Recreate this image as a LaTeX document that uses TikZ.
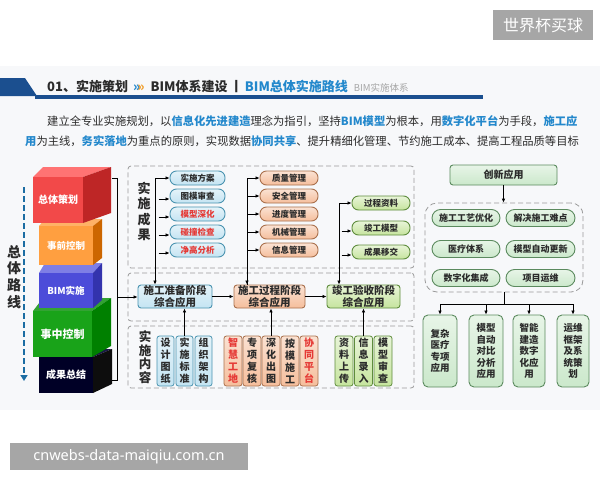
\documentclass[tikz,border=0pt]{standalone}
\usepackage{fontspec}
\setmainfont{Noto Sans CJK SC}
\newfontfamily\latinsans{Noto Sans}
\usetikzlibrary{arrows.meta}
\definecolor{hdrblue}{HTML}{1B4F8F}
\definecolor{hlblue}{HTML}{2388CC}
\definecolor{txt}{HTML}{2B2B2B}
\definecolor{bfill}{HTML}{C4E4F2}
\definecolor{bline}{HTML}{4A93B0}
\definecolor{ofill}{HTML}{F5BE9C}
\definecolor{oline}{HTML}{A9704C}
\definecolor{gfill}{HTML}{C6E49E}
\definecolor{gline}{HTML}{5E8C3C}
\definecolor{rfill}{HTML}{CBE8CB}
\definecolor{rline}{HTML}{5B8A5E}
\definecolor{redtxt}{HTML}{E53935}
\definecolor{dashgray}{HTML}{9A9A9A}
\definecolor{wmgray}{HTML}{A6A6A6}
\definecolor{slidebg}{HTML}{F7F8FA}
\definecolor{orng}{HTML}{F0A030}
\newcommand\hlt[1]{\textcolor{hlblue}{\bfseries #1}}
\begin{document}
\begin{tikzpicture}[x=1pt,y=-1pt,
  arr/.style={-{Latex[length=4pt,width=3.6pt]}, line width=0.8pt, draw=black},
  ln/.style={line width=0.8pt, draw=black},
  pillb/.style={draw=bline, line width=0.9pt, top color=bfill!45!white, bottom color=bfill, rounded corners=6.5pt, minimum width=55pt, minimum height=14pt, inner sep=0pt, font=\bfseries\fontsize{8.5}{9}\selectfont, text=txt},
  pillo/.style={pillb, draw=oline, top color=ofill!45!white, bottom color=ofill, minimum width=58pt},
  pillg/.style={pillb, draw=gline, top color=gfill!40!white, bottom color=gfill, minimum width=58pt},
  stagebox/.style={rounded corners=3pt, line width=0.9pt, minimum height=23pt, inner sep=0pt, align=center, font=\bfseries\fontsize{10.5}{12}\selectfont, text=txt},
  vbox/.style={rounded corners=2.5pt, line width=0.8pt, minimum width=17pt, minimum height=50pt, inner sep=0pt, align=center, font=\bfseries\fontsize{10}{12}\selectfont, text=txt},
  region/.style={draw=dashgray, dash pattern=on 5pt off 3pt, line width=0.8pt, rounded corners=3pt, inner sep=0pt},
  rpill/.style={draw=rline, line width=0.9pt, top color=rfill!45!white, bottom color=rfill, rounded corners=8.5pt, minimum height=17pt, inner sep=0pt, font=\bfseries\fontsize{9}{10}\selectfont, text=txt},
  tallbox/.style={draw=rline, line width=0.9pt, top color=rfill!45!white, bottom color=rfill, rounded corners=5pt, minimum height=72pt, inner sep=0pt, align=center, font=\bfseries\fontsize{9.5}{11.5}\selectfont, text=txt},
  vlabel/.style={align=center, font=\bfseries\fontsize{13}{15.5}\selectfont, text=txt, inner sep=0pt},
  cubetxt/.style={text=white, font=\bfseries\fontsize{9.5}{10}\selectfont, inner sep=0pt}
]
\useasboundingbox (0,0) rectangle (600,480);
\fill[white] (0,0) rectangle (600,480);
\fill[slidebg] (0,66) rectangle (600,410);
% watermarks
\node[fill=wmgray, text=white, minimum width=100pt, minimum height=30pt, inner sep=0pt, font=\fontsize{16}{16}\selectfont] (wm1) at (543,25) {世界杯买球};
\node[fill=wmgray, text=white, minimum width=238pt, minimum height=27pt, inner sep=0pt, font=\latinsans\fontsize{14.5}{15}\selectfont] (wm2) at (129,456.5) {cnwebs-data-maiqiu.com.cn};
% header
\fill[hdrblue] (0,78) -- (25,78) -- (37,96) -- (0,96) -- cycle;
\fill[hdrblue] (35,95) rectangle (483,99);
\node[anchor=west, inner sep=0pt, font=\bfseries\fontsize{13}{14}\selectfont, text=txt] (hd) at (47,86) {01、实施策划\ \,{\color{hlblue}»}\hspace{-3pt}{\color{orng}»}\ \ BIM体系建设\,丨\,{\color{hlblue}BIM总体实施路线}\ \ {\mdseries\fontsize{9.5}{10}\selectfont\color{gray!70}BIM实施体系}};
\node[anchor=west, inner sep=0pt, font=\fontsize{11.3}{13}\selectfont, text=txt] (p1) at (47,121) {建立全专业实施规划，以\hlt{信息化先进建造}理念为指引，坚持\hlt{BIM模型}为根本，用\hlt{数字化平台}为手段，\hlt{施工应}};
\node[anchor=west, inner sep=0pt, font=\fontsize{11.3}{13}\selectfont, text=txt] (p2) at (25,141) {\hlt{用}为主线，\hlt{务实落地}为重点的原则，实现数据\hlt{协同共享}、提升精细化管理、节约施工成本、提高工程品质等目标};
% left route
\draw[draw=hlblue!80!black, line width=2pt, dash pattern=on 6pt off 3pt, -{Triangle[length=6pt,width=7pt]}] (24,187) -- (24,381);
\node[vlabel, font=\bfseries\fontsize{14}{16.7}\selectfont] (route) at (14,277) {总\\体\\路\\线};
% cubes (bottom to top)
\fill[black!80!blue!90] (39,357) -- (46,349) -- (112,349) -- (93,357) -- cycle;
\fill[black!95] (93,357) -- (112,349) -- (112,384) -- (93,393) -- cycle;
\fill[black!85!blue] (39,357) rectangle (93,393);
\node[cubetxt, font=\bfseries\fontsize{10}{10}\selectfont] (c5) at (66,375) {成果总结};
\fill[green!55!black!80!white] (33,311) -- (43,298) -- (111,298) -- (92,311) -- cycle;
\fill[green!50!black] (92,311) -- (111,298) -- (111,346) -- (92,357) -- cycle;
\fill[green!60!black!90!white] (33,311) rectangle (92,357);
\node[cubetxt, font=\bfseries\fontsize{11}{11}\selectfont] (c4) at (62.5,334) {事中控制};
\fill[blue!45!white!90!black] (39,273) -- (45,263) -- (102,263) -- (93,273) -- cycle;
\fill[blue!60!black!80!white] (93,273) -- (102,263) -- (102,300) -- (93,308) -- cycle;
\fill[blue!65!white!85!black] (39,273) rectangle (93,308);
\node[cubetxt] (c3) at (66,290.5) {BIM实施};
\fill[orange!60!white] (39,226) -- (45,219) -- (102,219) -- (93,226) -- cycle;
\fill[orange!80!black] (93,226) -- (102,219) -- (102,258) -- (93,265) -- cycle;
\fill[orange!75!white] (39,226) rectangle (93,265);
\node[cubetxt] (c2) at (66,245.5) {事前控制};
\fill[red!55!white] (33,177) -- (43,167) -- (111,167) -- (83,177) -- cycle;
\fill[red!70!black!85!white] (83,177) -- (111,167) -- (111,213) -- (83,223) -- cycle;
\fill[red!70!white!95!black] (33,177) rectangle (83,223);
\node[cubetxt, font=\bfseries\fontsize{10}{10}\selectfont] (c1) at (58,200) {总体策划};
% regions
\node[region, minimum width=286pt, minimum height=102pt] (regA) at (271,217) {};
\node[region, minimum width=286pt, minimum height=48pt] (regB) at (271,297) {};
\node[region, minimum width=286pt, minimum height=62pt] (regC) at (271,357) {};
\node[vlabel] (labA) at (144,211.5) {实\\施\\成\\果};
\node[vlabel, font=\bfseries\fontsize{12.5}{13.5}\selectfont] (labC) at (145,357) {实\\施\\内\\容};
% stage boxes
\node[stagebox, draw=bline, top color=bfill!45!white, bottom color=bfill, minimum width=74pt] (s1) at (175,296.5) {施工准备阶段\\综合应用};
\node[stagebox, draw=oline, top color=ofill!45!white, bottom color=ofill, minimum width=71pt] (s2) at (269.5,296.5) {施工过程阶段\\综合应用};
\node[stagebox, draw=gline, top color=gfill!40!white, bottom color=gfill, minimum width=73pt] (s3) at (363.5,296.5) {竣工验收阶段\\综合应用};
\draw[arr] (s1) -- (s2);
\draw[arr] (s2) -- (s3);
% bracket
\coordinate (bt) at (117,178);
\coordinate (bb) at (117,380);
\coordinate (bm) at (117,297);
\draw[ln] (112,178) -- (bt) -- (bb) -- (112,380);
\draw[arr] (bm) -- (s1.west |- bm);
% stage 1 pills
\node[pillb] (a1) at (197.5,178) {实施方案};
\node[pillb] (a2) at (197.5,196) {图模审查};
\node[pillb, text=redtxt] (a3) at (197.5,214) {模型深化};
\node[pillb, text=redtxt] (a4) at (197.5,232) {碰撞检查};
\node[pillb, text=redtxt] (a5) at (197.5,250) {净高分析};
\coordinate (ka) at (155,178);
\draw[arr] (ka) -- (a1.west);
\draw[arr] (ka) -- (ka |- s1.north);
\foreach \n in {a2,a3,a4,a5}{
  \draw[arr] ([shift={(-11pt,-3pt)}]\n.west) -- ([shift={(0pt,-3pt)}]\n.west);
}
% stage 2 pills
\node[pillo] (b1) at (289,178) {质量管理};
\node[pillo] (b2) at (289,196) {安全管理};
\node[pillo] (b3) at (289,214) {进度管理};
\node[pillo] (b4) at (289,232) {机械管理};
\node[pillo] (b5) at (289,250) {信息管理};
\coordinate (kb) at (247,178);
\draw[ln] (kb) -- (kb |- s2.north);
\draw[arr] (kb |- b5.west) -- (kb |- s2.north);
\foreach \n in {b1,b2,b3,b4,b5}{
  \draw[arr] (kb |- \n.west) -- (\n.west);
}
% stage 3 pills
\node[pillg] (g1) at (381,203) {过程资料};
\node[pillg] (g2) at (381,228) {竣工模型};
\node[pillg] (g3) at (381,252) {成果移交};
\coordinate (kg) at (339,203);
\draw[arr] (kg) -- (g1.west);
\draw[arr] (kg) -- (kg |- s3.north);
\foreach \n in {g2,g3}{
  \draw[arr] ([shift={(-10pt,-3pt)}]\n.west) -- ([shift={(0pt,-3pt)}]\n.west);
}
% bottom items
\node[vbox, draw=bline, top color=bfill!45!white, bottom color=bfill] (d1) at (165.5,361) {设\\计\\图\\纸};
\node[vbox, draw=bline, top color=bfill!45!white, bottom color=bfill] (d2) at (184.5,361) {实\\施\\标\\准};
\node[vbox, draw=bline, top color=bfill!45!white, bottom color=bfill] (d3) at (203.5,361) {组\\织\\架\\构};
\node[vbox, draw=oline, top color=ofill!45!white, bottom color=ofill, text=redtxt, minimum width=18pt] (e1) at (233,361) {智\\慧\\工\\地};
\node[vbox, draw=oline, top color=ofill!45!white, bottom color=ofill, minimum width=18pt] (e2) at (252,361) {专\\项\\复\\核};
\node[vbox, draw=oline, top color=ofill!45!white, bottom color=ofill, minimum width=18pt] (e3) at (271,361) {深\\化\\出\\图};
\node[vbox, draw=oline, top color=ofill!45!white, bottom color=ofill, minimum width=18pt] (e4) at (290,361) {按\\模\\施\\工};
\node[vbox, draw=oline, top color=ofill!45!white, bottom color=ofill, text=redtxt, minimum width=18pt] (e5) at (309,361) {协\\同\\平\\台};
\node[vbox, draw=gline, top color=gfill!40!white, bottom color=gfill, minimum width=18pt] (f1) at (344,361) {资\\料\\上\\传};
\node[vbox, draw=gline, top color=gfill!40!white, bottom color=gfill, minimum width=18pt] (f2) at (363.5,361) {信\\息\\录\\入};
\node[vbox, draw=gline, top color=gfill!40!white, bottom color=gfill, minimum width=18pt] (f3) at (383,361) {模\\型\\审\\查};
\draw[arr] (d2.north) -- (d2.north |- s1.south);
\draw[arr] (e3.north) -- (e3.north |- s2.south);
\draw[arr] (f2.north) -- (f2.north |- s3.south);
% right side
\node[draw=rline, line width=0.9pt, top color=rfill!45!white, bottom color=rfill, rounded corners=3pt, minimum width=107pt, minimum height=20pt, inner sep=0pt, font=\bfseries\fontsize{10}{11}\selectfont, text=txt] (inn) at (503.5,175) {创新应用};
\node[region, rounded corners=12pt, minimum width=158pt, minimum height=89pt] (grp) at (504,247.5) {};
\draw[arr] (inn.south) -- (inn.south |- grp.north);
\node[rpill, minimum width=68pt] (r1) at (466,218) {施工工艺优化};
\node[rpill, minimum width=69pt] (r2) at (540.5,218) {解决施工难点};
\node[rpill, minimum width=68pt] (r3) at (466,249) {医疗体系};
\node[rpill, minimum width=69pt] (r4) at (540.5,249) {模型自动更新};
\node[rpill, minimum width=68pt] (r5) at (466,278) {数字化集成};
\node[rpill, minimum width=69pt] (r6) at (540.5,278) {项目运维};
\node[tallbox, minimum width=34pt] (t1) at (440,351) {复杂\\医疗\\专项\\应用};
\node[tallbox, minimum width=34pt] (t2) at (486,351) {模型\\自动\\对比\\分析\\应用};
\node[tallbox, minimum width=32pt] (t3) at (529,351) {智能\\建造\\数字\\化应\\用};
\node[tallbox, minimum width=32pt] (t4) at (573,351) {运维\\框架\\及系\\统策\\划};
\coordinate (hj) at (504,304);
\draw[ln] (grp.south) -- (hj);
\draw[ln] (t1.north |- hj) -- (t4.north |- hj);
\foreach \n in {t1,t2,t3,t4}{
  \draw[arr] (\n.north |- hj) -- (\n.north);
}
\end{tikzpicture}
\end{document}
